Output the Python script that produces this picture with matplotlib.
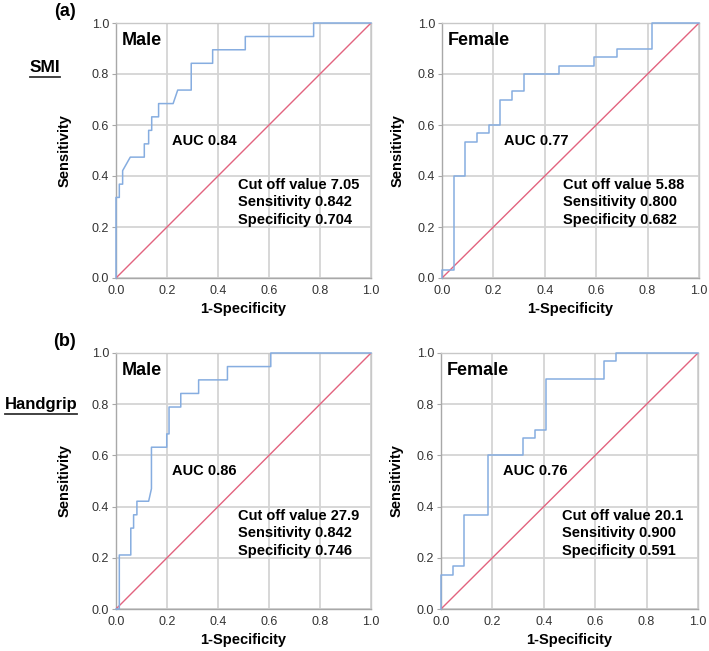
import matplotlib
matplotlib.use("Agg")
import matplotlib.pyplot as plt

plt.rcParams['font.family'] = ['Liberation Sans', 'DejaVu Sans']

# ROC curves (1-specificity, sensitivity)
smi_male_fpr = [0.0, 0.0, 0.013, 0.013, 0.026, 0.026, 0.056, 0.111, 0.111, 0.128, 0.128,
                0.140, 0.140, 0.167, 0.167, 0.224, 0.242, 0.295, 0.295, 0.379, 0.379,
                0.507, 0.507, 0.775, 0.775, 1.0]
smi_male_tpr = [0.0, 0.316, 0.316, 0.368, 0.368, 0.421, 0.474, 0.474, 0.526, 0.526, 0.579,
                0.579, 0.632, 0.632, 0.684, 0.684, 0.737, 0.737, 0.842, 0.842, 0.895,
                0.895, 0.947, 0.947, 1.0, 1.0]

smi_female_fpr = [0.0, 0.0, 0.045, 0.045, 0.091, 0.091, 0.136, 0.136, 0.182, 0.182, 0.227,
                  0.227, 0.273, 0.273, 0.318, 0.318, 0.455, 0.455, 0.591, 0.591, 0.682,
                  0.682, 0.818, 0.818, 1.0]
smi_female_tpr = [0.0, 0.033, 0.033, 0.400, 0.400, 0.533, 0.533, 0.567, 0.567, 0.600, 0.600,
                  0.700, 0.700, 0.733, 0.733, 0.800, 0.800, 0.833, 0.833, 0.867, 0.867,
                  0.900, 0.900, 1.0, 1.0]

hg_male_fpr = [0.0, 0.013, 0.013, 0.058, 0.058, 0.069, 0.069, 0.082, 0.082, 0.128, 0.139,
               0.139, 0.199, 0.199, 0.208, 0.208, 0.254, 0.254, 0.324, 0.324, 0.437,
               0.437, 0.607, 0.607, 1.0]
hg_male_tpr = [0.0, 0.0, 0.211, 0.211, 0.316, 0.316, 0.368, 0.368, 0.421, 0.421, 0.470,
               0.632, 0.632, 0.684, 0.684, 0.789, 0.789, 0.842, 0.842, 0.895, 0.895,
               0.947, 0.947, 1.0, 1.0]

hg_female_fpr = [0.0, 0.0, 0.045, 0.045, 0.091, 0.091, 0.182, 0.182, 0.318, 0.318, 0.364,
                 0.364, 0.409, 0.409, 0.636, 0.636, 0.682, 0.682, 1.0]
hg_female_tpr = [0.0, 0.133, 0.133, 0.167, 0.167, 0.367, 0.367, 0.600, 0.600, 0.667, 0.667,
                 0.700, 0.700, 0.900, 0.900, 0.967, 0.967, 1.0, 1.0]

panel_sex = ["Male", "Female", "Male", "Female"]
panel_auc = ["0.84", "0.77", "0.86", "0.76"]
panel_cutoff = ["7.05", "5.88", "27.9", "20.1"]
panel_sens = ["0.842", "0.800", "0.842", "0.900"]
panel_spec = ["0.704", "0.682", "0.746", "0.591"]
curves = [(smi_male_fpr, smi_male_tpr), (smi_female_fpr, smi_female_tpr),
          (hg_male_fpr, hg_male_tpr), (hg_female_fpr, hg_female_tpr)]

ticks = [0.0, 0.2, 0.4, 0.6, 0.8, 1.0]
ROC_COLOR = "#86ade0"
REF_COLOR = "#e2637f"
GRID_COLOR = "#d4d4d4"

fig = plt.figure(figsize=(7.09, 6.51), dpi=100)
W, H = 709, 651

# axes boxes in pixels: left, top, width, height
boxes = [(116, 23, 255, 255), (442, 23, 257, 255),
         (116, 353, 255, 256), (441, 353, 257, 256)]

for i, (l, t, w, h) in enumerate(boxes):
    ax = fig.add_axes([l / W, 1 - (t + h) / H, w / W, h / H])
    fpr, tpr = curves[i]
    ax.plot([0, 1], [0, 1], color=REF_COLOR, lw=1.0, zorder=3)
    ax.plot(fpr, tpr, color=ROC_COLOR, lw=1.1, zorder=4, clip_on=False)
    ax.set_xlim(0, 1)
    ax.set_ylim(0, 1)
    ax.set_xticks(ticks)
    ax.set_yticks(ticks)
    ax.set_xticklabels(["%.1f" % v for v in ticks])
    ax.set_yticklabels(["%.1f" % v for v in ticks])
    ax.grid(True, color=GRID_COLOR, lw=1.3)
    ax.set_axisbelow(True)
    for s in ax.spines.values():
        s.set_color("#c8c8c8")
        s.set_linewidth(1.0)
    ax.spines["left"].set_color("#a8a8a8")
    ax.spines["bottom"].set_color("#a8a8a8")
    ax.tick_params(axis="y", length=3, color="#a8a8a8", pad=2, labelsize=9, labelcolor="#333333")
    ax.tick_params(axis="x", length=0, pad=5, labelsize=9, labelcolor="#333333")

    ax.set_xlabel("1-Specificity", fontsize=10.5, fontweight="bold")
    ax.xaxis.set_label_coords(0.5, -0.094)
    ax.set_ylabel("Sensitivity", fontsize=10.5, fontweight="bold")
    if i % 2 == 0:
        ax.yaxis.set_label_coords(-0.175, 0.5)
    else:
        ax.yaxis.set_label_coords(-0.145, 0.5)

    ax.text(0.024, 0.93, panel_sex[i], fontsize=13, fontweight="bold",
            va="center", ha="left", transform=ax.transAxes)
    auc_x = 0.218 if i % 2 == 0 else 0.243
    ax.text(auc_x, 0.538, "AUC " + panel_auc[i], fontsize=10.5, fontweight="bold",
            va="center", ha="left", transform=ax.transAxes)
    cut_x = 0.48 if i % 2 == 0 else 0.47
    ax.text(cut_x, 0.365, "Cut off value " + panel_cutoff[i], fontsize=10.5,
            fontweight="bold", va="center", ha="left", transform=ax.transAxes)
    ax.text(cut_x, 0.297, "Sensitivity " + panel_sens[i], fontsize=10.5,
            fontweight="bold", va="center", ha="left", transform=ax.transAxes)
    ax.text(cut_x, 0.228, "Specificity " + panel_spec[i], fontsize=10.5,
            fontweight="bold", va="center", ha="left", transform=ax.transAxes)

# row labels
fig.text(65 / W, 1 - 12 / H, "(a)", fontsize=13, fontweight="bold", ha="center", va="center")
fig.text(65 / W, 1 - 341 / H, "(b)", fontsize=13, fontweight="bold", ha="center", va="center")
t1 = fig.text(45 / W, 1 - 68 / H, "SMI", fontsize=12.5, fontweight="bold", ha="center", va="center")
t2 = fig.text(41 / W, 1 - 405 / H, "Handgrip", fontsize=12, fontweight="bold", ha="center", va="center")

# underline the row titles
fig.canvas.draw()
renderer = fig.canvas.get_renderer()
for t in (t1, t2):
    bb = t.get_window_extent(renderer)
    y = bb.y0 - 1
    fig.add_artist(plt.Line2D([bb.x0 / W, bb.x1 / W], [y / H, y / H],
                              color="#333333", lw=1.3, transform=fig.transFigure))

fig.savefig("out.png", dpi=100)
